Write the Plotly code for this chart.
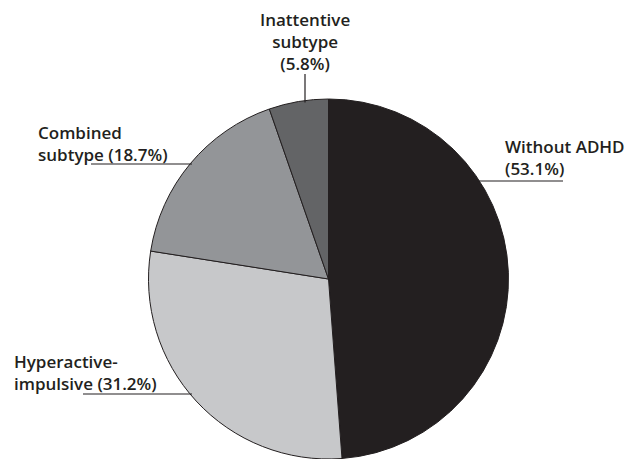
import math
import plotly.graph_objects as go

# ---- data ----
categories = ["Without ADHD", "Hyperactive-impulsive", "Combined subtype", "Inattentive subtype"]
values = [53.1, 31.2, 18.7, 5.8]
colors = ["#231f20", "#c7c8ca", "#939598", "#636466"]

W, H = 625, 459
CX, CY, R = 328.5, 279.0, 180.0   # pie centre / radius in pixels
FS = 17
FONT = "Open Sans"
INK = "#231f20"


def px(x):
    return x / W


def py(y):
    return 1 - y / H


def edge_x(y, side):
    dy = y - CY
    dx = math.sqrt(max(R * R - dy * dy, 0))
    return CX + side * dx


fig = go.Figure(go.Pie(
    labels=categories,
    values=values,
    sort=False,
    direction="clockwise",
    rotation=0,
    textinfo="none",
    hoverinfo="label+value",
    marker=dict(colors=colors, line=dict(color=INK, width=1)),
    domain=dict(x=[px(CX - R - 2), px(CX + R + 2)], y=[0, py(CY - R)]),
    showlegend=False,
))

pct = [f"({v}%)" for v in values]

# label layouts: (lines, x, anchor, mean baseline)
label_specs = [
    (["Without ADHD", pct[0]], 503, "left", 163),
    (["Hyperactive-", "impulsive " + pct[1]], 12, "left", 378),
    (["Combined", "subtype " + pct[2]], 36, "left", 148.5),
    (["Inattentive", "subtype", pct[3]], 305, "center", 47),
]

annotations = []
for lines, x, anchor, b in label_specs:
    annotations.append(dict(
        text="<br>".join(lines), x=px(x), y=py(b - 0.3 * FS), xref="paper", yref="paper",
        xanchor=anchor, yanchor="middle", align=anchor, showarrow=False,
        font=dict(family=FONT, size=FS, color=INK, weight=600),
    ))

shapes = []
line_style = dict(color=INK, width=1.2)
# Without ADHD underline
y = 181
shapes.append(dict(type="line", xref="paper", yref="paper",
                   x0=px(edge_x(y, 1) - 2), x1=px(563), y0=py(y), y1=py(y), line=line_style))
# Combined underline
y = 164
shapes.append(dict(type="line", xref="paper", yref="paper",
                   x0=px(91), x1=px(edge_x(y, -1) + 2), y0=py(y), y1=py(y), line=line_style))
# Hyperactive underline
y = 394
shapes.append(dict(type="line", xref="paper", yref="paper",
                   x0=px(83), x1=px(edge_x(y, -1) + 2), y0=py(y), y1=py(y), line=line_style))
# Inattentive vertical leader
x = 305
top_edge = CY - math.sqrt(R * R - (x - CX) ** 2)
shapes.append(dict(type="line", xref="paper", yref="paper",
                   x0=px(x), x1=px(x), y0=py(74), y1=py(top_edge + 2), line=line_style))

fig.update_layout(
    width=W, height=H,
    margin=dict(l=0, r=0, t=0, b=0),
    paper_bgcolor="white", plot_bgcolor="white",
    annotations=annotations, shapes=shapes,
)

fig.write_html("out.html")
